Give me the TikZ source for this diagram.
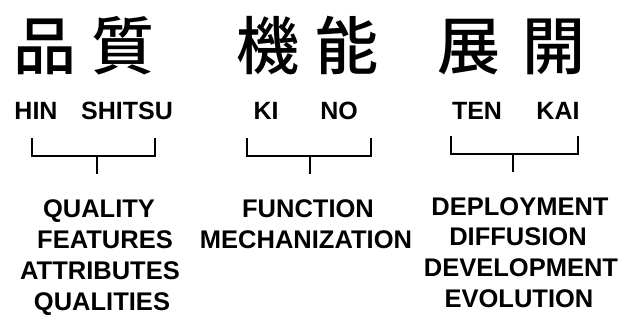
\documentclass[tikz,border=0pt]{standalone}
\usepackage{fontspec}
\setmainfont{Liberation Sans}
\newfontfamily\cjk{Noto Sans CJK JP Medium}
\begin{document}
\begin{tikzpicture}[x=1pt,y=-1pt,
  kanji/.style={inner sep=0pt,anchor=base,font=\cjk\fontsize{63}{63}\selectfont},
  roma/.style={inner sep=0pt,anchor=base,font=\bfseries\fontsize{25}{25}\selectfont},
  mean/.style={inner sep=0pt,anchor=base,font=\bfseries\fontsize{25.5}{25.5}\selectfont},
  brk/.style={line width=1.8pt}]
\useasboundingbox (0,0) rectangle (626,323);
% kanji
\node[kanji] (k1) at (45,70) {品};
\node[kanji] (k2) at (123,70) {質};
\node[kanji] (k3) at (268,70) {機};
\node[kanji] (k4) at (347,70) {能};
\node[kanji] (k5) at (469,70) {展};
\node[kanji] (k6) at (554,70) {開};
% romaji
\node[roma] (r1) at (36,120) {HIN};
\node[roma] (r2) at (127,120) {SHITSU};
\node[roma] (r3) at (266,120) {KI};
\node[roma] (r4) at (339,120) {NO};
\node[roma] (r5) at (477,120) {TEN};
\node[roma] (r6) at (558,120) {KAI};
% brackets
\coordinate (a1) at (32,138); \coordinate (a2) at (155,138);
\coordinate (am) at (97,156); \coordinate (as) at (97,174);
\coordinate (b1) at (247,138); \coordinate (b2) at (371,138);
\coordinate (bm) at (310,156); \coordinate (bs) at (310,174);
\coordinate (c1) at (451,136); \coordinate (c2) at (578,136);
\coordinate (cm) at (513,154); \coordinate (cs) at (513,172);
\draw[brk] (a1) |- (am) -| (a2); \draw[brk] (am) -- (as);
\draw[brk] (b1) |- (bm) -| (b2); \draw[brk] (bm) -- (bs);
\draw[brk] (c1) |- (cm) -| (c2); \draw[brk] (cm) -- (cs);
% meanings
\node[mean] (m11) at (99,217) {QUALITY};
\node[mean] (m12) at (105,248) {FEATURES};
\node[mean] (m13) at (100,279) {ATTRIBUTES};
\node[mean] (m14) at (102,310) {QUALITIES};
\node[mean] (m21) at (308,217) {FUNCTION};
\node[mean] (m22) at (306,248) {MECHANIZATION};
\node[mean] (m31) at (520,215) {DEPLOYMENT};
\node[mean] (m32) at (518,245) {DIFFUSION};
\node[mean] (m33) at (521,276) {DEVELOPMENT};
\node[mean] (m34) at (519,307) {EVOLUTION};
\end{tikzpicture}
\end{document}
